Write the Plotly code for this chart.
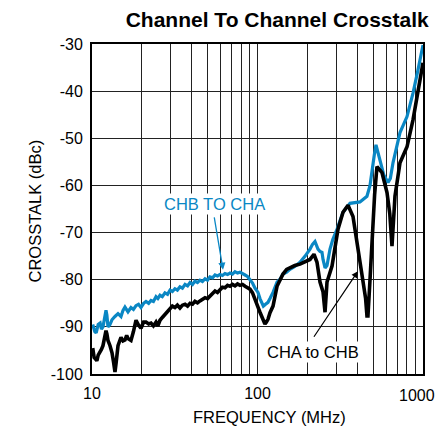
import plotly.graph_objects as go
import math

# Frequency (MHz) and crosstalk (dBc) for each channel direction
chb_to_cha_freq = [10.1, 10.4, 10.6, 10.9, 11.2, 11.4, 11.65, 11.9, 12.15, 12.3, 12.49, 12.85, 13.2, 13.77,
                   14.36, 14.97, 15.4, 15.82, 16.5, 17.2, 17.8, 18.45, 19.1, 19.77, 20.5, 21.2, 22.0, 22.73,
                   23.5, 24.36, 25.0, 25.75, 26.6, 27.6, 28.6, 29.6, 30.6, 31.7, 32.8, 34.0, 35.2, 36.5,
                   37.8, 39.1, 40.5, 41.9, 43.4, 44.9, 46.5, 48.2, 49.9, 51.6, 53.5, 55.4, 57.3, 59.3,
                   61.4, 63.6, 65.9, 68.2, 70.6, 73.1, 75.7, 78.4, 81.2, 84.1, 87.0, 90.1, 93.3, 96.6,
                   100.7, 103.5, 106.4, 108.5, 110.9, 115.7, 119, 124.1, 131.2, 136.8, 142.6, 150, 157,
                   168, 180.6, 194, 207.6, 215, 222.5, 228.8, 232, 238.6, 245.3, 248.9, 255.9, 263,
                   274.2, 285, 302.2, 328.6, 362.2, 416, 458.6, 478.4, 491.8, 508, 520, 530, 549.6, 580,
                   614.7, 635, 658.7, 726.2, 800.6, 870.1, 932.8, 1000]
chb_to_cha_db = [-89.5, -91.0, -91.3, -89.5, -89.2, -90.5, -90.0, -88.5, -86.5, -87.5, -90.0, -89.5, -88.5, -87.8,
                 -87.2, -87.8, -86.5, -85.8, -86.8, -85.9, -86.3, -85.5, -85.2, -85.9, -85.0, -84.6, -85.0, -84.4,
                 -84.6, -83.6, -84.0, -83.3, -83.6, -82.8, -83.1, -82.2, -82.5, -81.9, -82.2, -81.5, -81.8, -81.0,
                 -81.3, -80.6, -81.0, -80.3, -80.6, -80.1, -80.4, -79.8, -80.1, -79.4, -79.6, -79.0, -79.2, -78.9,
                 -79.1, -78.7, -78.9, -78.6, -78.8, -78.3, -78.6, -78.4, -78.8, -79.0, -79.3, -79.9, -80.7, -81.8,
                 -82.7, -84.0, -85.0, -85.6, -85.3, -84.8, -84.0, -82.7, -80.5, -79.9, -78.8, -78.4, -77.8,
                 -77.2, -76.3, -75.0, -73.5, -72.5, -71.9, -72.8, -73.5, -74.0, -74.2, -75.7, -77.5, -77.0,
                 -73.5, -71.5, -69.3, -65.7, -63.8, -63.5, -62.3, -60.0, -56.6, -53.5, -51.4, -52.5, -55.2, -57.8,
                 -59.4, -58.5, -55.2, -48.8, -45.4, -40.4, -35.5, -30.2]

cha_to_chb_freq = [10.1, 10.3, 10.5, 10.7, 10.9, 11.2, 11.4, 11.65, 11.9, 12.15, 12.3, 12.49, 12.85, 13.21,
                   13.5, 13.77, 14.0, 14.36, 14.97, 15.4, 15.82, 16.2, 16.5, 17.2, 17.8, 18.45, 19.1, 19.77,
                   20.5, 21.2, 22.0, 22.73, 23.5, 24.36, 25.0, 25.75, 26.6, 27.6, 28.6, 29.6, 30.6, 31.7,
                   32.8, 34.0, 35.2, 36.5, 37.8, 39.1, 40.5, 41.9, 43.4, 44.9, 46.5, 48.2, 49.9, 51.6,
                   53.5, 55.4, 57.3, 59.3, 61.4, 63.6, 65.9, 68.2, 70.6, 73.1, 75.7, 78.4, 81.2, 84.1,
                   87.0, 90.1, 93.3, 96.6, 100.7, 103.5, 106.4, 109, 110.9, 113, 115.7, 119, 124.1, 131.2,
                   136.8, 142.6, 150, 157, 168, 180.6, 194, 207.6, 219.4, 228.8, 238.6, 245, 248.9, 255.9,
                   263, 282, 306.5, 328.6, 352.3, 377.6, 404.8, 434, 450, 458.6, 465, 478.4, 491.8, 510,
                   527, 545, 565.5, 606, 630, 649.6, 665, 677.2, 726.2, 800.6, 870.1, 932.8, 1000]
cha_to_chb_db = [-94.5, -96.5, -96.8, -97.2, -96.0, -95.4, -94.8, -94.0, -92.5, -90.8, -91.5, -92.9, -94.0, -95.5,
                 -97.5, -99.6, -97.5, -94.0, -92.2, -93.0, -92.8, -91.8, -92.5, -92.9, -91.0, -88.6, -89.6, -90.3,
                 -89.0, -89.0, -89.4, -89.2, -89.8, -89.0, -89.8, -88.6, -88.0, -87.4, -86.6, -86.0, -85.6, -85.9,
                 -85.4, -86.0, -85.4, -85.2, -85.6, -85.0, -85.2, -84.6, -84.9, -84.5, -84.2, -83.8, -84.0, -83.4,
                 -82.9, -82.4, -82.7, -82.0, -81.6, -81.7, -81.2, -81.4, -81.0, -81.3, -80.9, -81.2, -81.0, -81.4,
                 -81.6, -82.0, -82.8, -84.0, -85.8, -86.9, -87.8, -89.0, -89.4, -89.0, -88.4, -87.0, -85.6, -81.4,
                 -80.0, -78.8, -77.8, -77.4, -77.0, -76.7, -76.2, -75.7, -74.6, -76.3, -80.5, -81.5, -82.6, -86.9,
                 -80.5, -77.1, -69.3, -65.7, -64.2, -66.6, -73.5, -79.3, -84.0, -87.7, -87.7, -80.0, -70.8, -62.0,
                 -56.0, -56.5, -57.3, -61.5, -66.0, -72.9, -67.0, -62.3, -55.2, -51.8, -46.1, -39.7, -34.0]

x_tick_vals = [10, 100, 1000]
x_tick_text = ["10", "100", "1000"]
x_minor_vals = [20, 30, 40, 50, 60, 70, 80, 90, 200, 300, 400, 500, 600, 700, 800, 900]
y_tick_vals = [-100, -90, -80, -70, -60, -50, -40, -30]
y_tick_text = ["-100", "-90", "-80", "-70", "-60", "-50", "-40", "-30"]

BLUE = "#0a87c4"
FONT = "Liberation Sans, Arial, sans-serif"

fig = go.Figure()
fig.add_trace(go.Scatter(x=chb_to_cha_freq, y=chb_to_cha_db, mode="lines",
                         line=dict(color=BLUE, width=3.2), name="CHB TO CHA"))
fig.add_trace(go.Scatter(x=cha_to_chb_freq, y=cha_to_chb_db, mode="lines",
                         line=dict(color="black", width=3.6), name="CHA to CHB"))

# Series labels with arrows
fig.add_annotation(x=math.log10(55.3), y=-63.9, text="CHB TO CHA", showarrow=False,
                   font=dict(color=BLUE, size=16.5, family=FONT), bgcolor="white")
fig.add_annotation(x=math.log10(61.9), y=-77.9, text="", showarrow=True, ax=-9, ay=-54,
                   arrowhead=2, arrowsize=1.1, arrowwidth=1.3, arrowcolor=BLUE)
fig.add_annotation(x=math.log10(216), y=-95.3, text="CHA to CHB", showarrow=False,
                   font=dict(color="black", size=16.5, family=FONT), bgcolor="white")
fig.add_annotation(x=math.log10(404.6), y=-78.2, text="", showarrow=True, ax=-45, ay=67,
                   arrowhead=2, arrowsize=1.1, arrowwidth=1.2, arrowcolor="black")

# The last frequency label sits flush with the right edge, so it is placed by hand
fig.add_annotation(xref="paper", yref="paper", x=1.042, y=-0.066, xanchor="right",
                   yanchor="middle", text=x_tick_text[-1], showarrow=False,
                   font=dict(size=16, family=FONT, color="black"))

# Axis titles
fig.add_annotation(xref="paper", yref="paper", x=0.535, y=-0.1636, text="FREQUENCY (MHz)",
                   showarrow=False, font=dict(size=16.5, family=FONT, color="black"))
fig.add_annotation(xref="paper", yref="paper", x=-0.207, y=0.494, text="CROSSTALK (dBc)",
                   textangle=-90, showarrow=False, font=dict(size=16.5, family=FONT, color="black"))

fig.update_layout(
    width=440, height=437,
    margin=dict(l=92, r=17, t=44, b=63, autoexpand=False),
    paper_bgcolor="white", plot_bgcolor="white",
    showlegend=False,
    font=dict(family=FONT, color="black", size=16),
    title=dict(text="<b>Channel To Channel Crosstalk</b>", x=0.63, xanchor="center",
               y=0.954, yanchor="middle", font=dict(size=21, family=FONT, color="black")),
)
fig.update_xaxes(type="log", range=[1, 3.000001], tickvals=x_tick_vals,
                 ticktext=x_tick_text[:-1] + [""],
                 showgrid=True, gridcolor="#222", gridwidth=1.2,
                 minor=dict(tickvals=x_minor_vals, showgrid=True, gridcolor="#222", gridwidth=1.2),
                 showline=True, linecolor="black", linewidth=2, mirror=True,
                 ticks="", zeroline=False, ticklabelstandoff=4,
                 automargin=False,
                 tickfont=dict(size=16, family=FONT, color="black"))
fig.update_yaxes(range=[-100, -30], tickvals=y_tick_vals, ticktext=y_tick_text,
                 showgrid=True, gridcolor="#222", gridwidth=1.2,
                 showline=True, linecolor="black", linewidth=2, mirror=True,
                 ticks="", zeroline=False, ticklabelstandoff=4, automargin=False,
                 tickfont=dict(size=16, family=FONT, color="black"))

fig.write_html("out.html")
